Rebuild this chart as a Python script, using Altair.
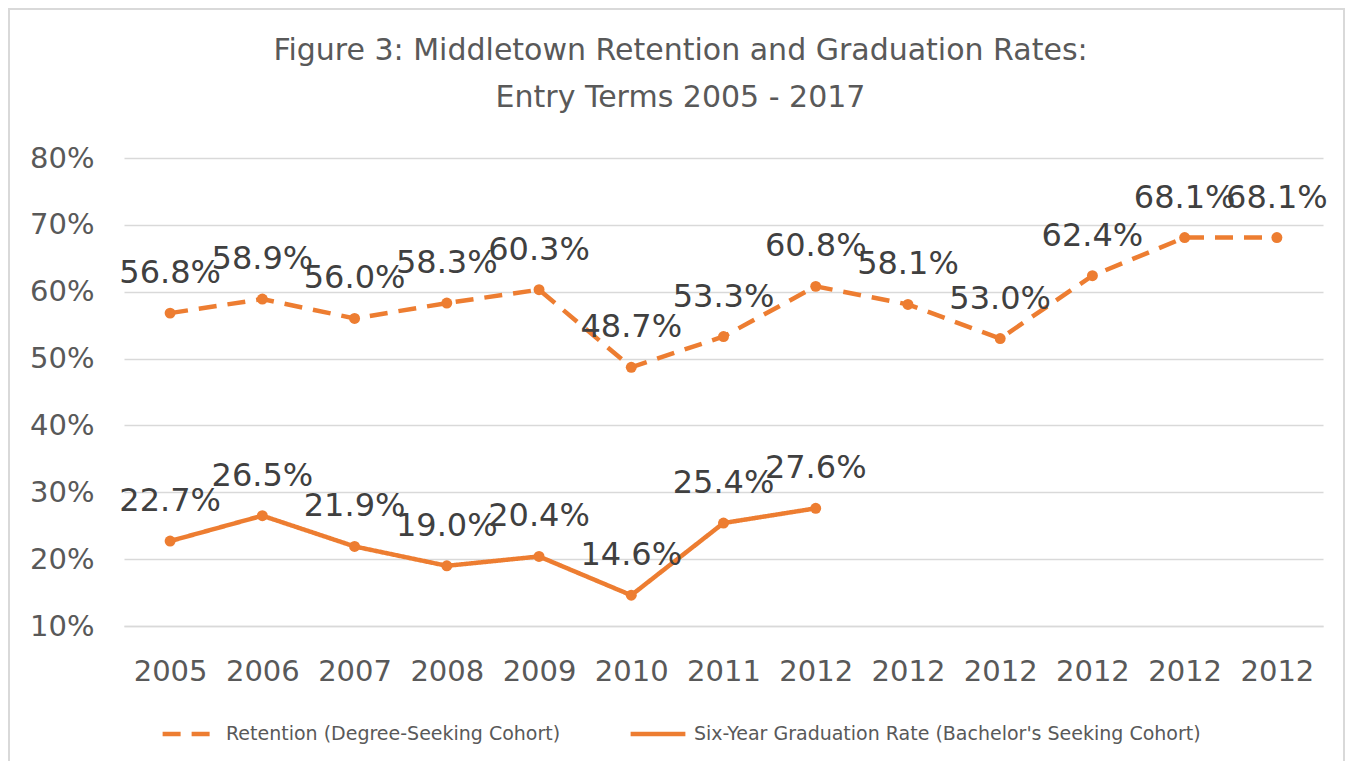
import json
import altair as alt
import pandas as pd

# ---- data ----
year_labels = ["2005", "2006", "2007", "2008", "2009", "2010", "2011",
               "2012", "2012", "2012", "2012", "2012", "2012"]
retention = [0.568, 0.589, 0.560, 0.583, 0.603, 0.487, 0.533,
             0.608, 0.581, 0.530, 0.624, 0.681, 0.681]
graduation = [0.227, 0.265, 0.219, 0.190, 0.204, 0.146, 0.254, 0.276]
series_names = ["Retention (Degree-Seeking Cohort)",
                "Six-Year Graduation Rate (Bachelor's Seeking Cohort)"]

rows = []
for i, v in enumerate(retention):
    rows.append({"idx": i, "value": v, "series": series_names[0]})
for i, v in enumerate(graduation):
    rows.append({"idx": i, "value": v, "series": series_names[1]})
df = pd.DataFrame(rows)

ORANGE = "#ED7D31"
GRAY = "#595959"
FONT = "DejaVu Sans"

label_expr = json.dumps(year_labels) + "[datum.value]"

x = alt.X("idx:O",
          scale=alt.Scale(type="point", padding=0.5),
          axis=alt.Axis(title=None, labelExpr=label_expr, labelAngle=0,
                        labelFontSize=29, labelColor=GRAY, labelFont=FONT,
                        ticks=False, domain=True, domainColor="#d9d9d9",
                        domainWidth=1.5, labelPadding=31, grid=False))
y = alt.Y("value:Q",
          scale=alt.Scale(domain=[0.1, 0.8], nice=False, zero=False),
          axis=alt.Axis(title=None, format=".0%",
                        values=[0.1, 0.2, 0.3, 0.4, 0.5, 0.6, 0.7, 0.8],
                        labelFontSize=29, labelColor=GRAY, labelFont=FONT,
                        ticks=False, domain=False, gridColor="#d9d9d9",
                        gridWidth=1.5, labelPadding=30))


def make_legend():
    return alt.Legend(title=None, orient="none", direction="horizontal",
                      legendX=36, legendY=546, columns=2,
                      symbolType="stroke", symbolSize=3000,
                      symbolStrokeWidth=4.5, labelFontSize=19,
                      labelColor=GRAY, labelFont=FONT, labelLimit=0,
                      columnPadding=60, labelOffset=6)


color = alt.Color("series:N",
                  scale=alt.Scale(domain=series_names, range=[ORANGE, ORANGE]),
                  legend=make_legend())
dash = alt.StrokeDash("series:N",
                      scale=alt.Scale(domain=series_names, range=[[18, 11], [1, 0]]),
                      legend=make_legend())

# outer chart frame (decoration)
frame = alt.Chart(pd.DataFrame({"a": [0]})).mark_rect(
    fill=None, stroke="#d9d9d9", strokeWidth=2, clip=False).encode(
    x=alt.value(-115), x2=alt.value(1220), y=alt.value(-149), y2=alt.value(700))

base = alt.Chart(df)

lines = base.mark_line(strokeWidth=4.5).encode(x=x, y=y, color=color, strokeDash=dash,
                                               detail="series:N")
points = base.mark_point(filled=True, size=120, opacity=1, color=ORANGE).encode(
    x=x, y=y, detail="series:N")
labels = base.mark_text(dy=-40, fontSize=32, font=FONT, color="#404040").encode(
    x=x, y=y, text=alt.Text("value:Q", format=".1%"))

chart = alt.layer(frame, lines, points, labels).properties(
    width=1199, height=468,
    title=alt.TitleParams(
        text=["Figure 3: Middletown Retention and Graduation Rates:",
              "Entry Terms 2005 - 2017"],
        fontSize=30, font=FONT, color=GRAY, fontWeight="normal",
        lineHeight=47, anchor="middle", offset=-105, dx=-43),
    autosize=alt.AutoSizeParams(type="none"),
    padding={"left": 116, "top": 150, "right": 22, "bottom": 135},
).configure(background="white").configure_view(strokeWidth=0, stroke="transparent")

chart.save("out.html", embed_options={"renderer": "svg", "actions": False})
